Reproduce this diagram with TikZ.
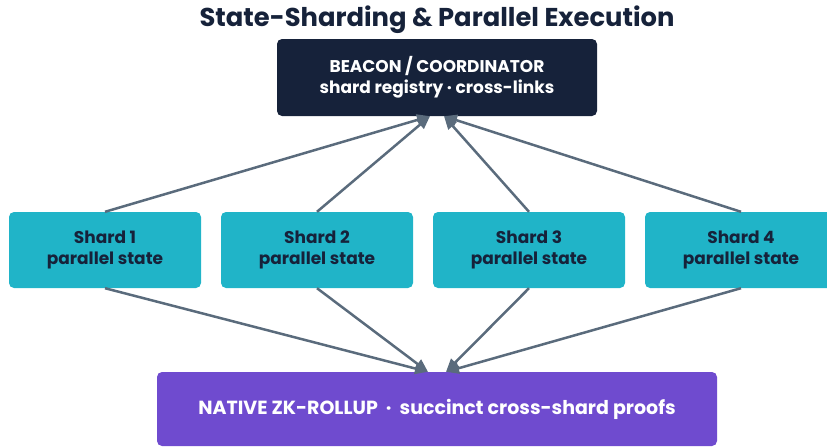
\documentclass[tikz,border=0pt]{standalone}
\usepackage{fontspec}
\setmainfont{Poppins}
\usetikzlibrary{arrows.meta,calc}

\definecolor{navyink}{HTML}{16223A}
\definecolor{shardfill}{HTML}{20B4C8}
\definecolor{rollupfill}{HTML}{6F4BCF}
\definecolor{edgegray}{HTML}{5A6B7C}

\tikzset{
  box/.style={rectangle, rounded corners=5pt, align=center, inner sep=0pt,
              font=\bfseries\fontsize{17}{20.5}\selectfont},
  beaconbox/.style={box, fill=navyink, text=white, minimum width=320pt, minimum height=77pt},
  shardbox/.style={box, fill=shardfill, text=navyink, minimum width=192pt, minimum height=76pt},
  rollupbox/.style={box, fill=rollupfill, text=white, minimum width=560pt, minimum height=74pt,
                    font=\bfseries\fontsize{19}{22}\selectfont},
  link/.style={draw=edgegray, line width=2.5pt,
               -{Triangle[length=13pt,width=11pt]}},
}

\begin{document}
\begin{tikzpicture}[x=1pt,y=-1pt]
  \useasboundingbox (0,0) rectangle (827,447);
  \clip (0,0) rectangle (827,447);

  \node[text=navyink, font=\bfseries\fontsize{25.8}{30}\selectfont] (title) at (437,20)
    {State-Sharding \& Parallel Execution};

  \node[beaconbox] (beacon) at (437,77.5)
    {BEACON / COORDINATOR\\shard registry · cross-links};

  \node[shardbox] (s1) at (105,250) {Shard 1\\parallel state};
  \node[shardbox] (s2) at (317,250) {Shard 2\\parallel state};
  \node[shardbox] (s3) at (529,250) {Shard 3\\parallel state};
  \node[shardbox] (s4) at (741,250) {Shard 4\\parallel state};

  \node[rollupbox] (rollup) at (437,409)
    {NATIVE ZK-ROLLUP~~·~~succinct cross-shard proofs};

  % arrival points on the beacon and the rollup
  \coordinate (bl) at ($(beacon.south)+(-7,0)$);
  \coordinate (br) at ($(beacon.south)+(7,0)$);
  \coordinate (rl) at ($(rollup.north)+(-9,0)$);
  \coordinate (rr) at ($(rollup.north)+(9,0)$);

  % shards report up to the beacon
  \draw[link] (s1.north) -- (bl);
  \draw[link] (s2.north) -- (bl);
  \draw[link] (s3.north) -- (br);
  \draw[link] (s4.north) -- (br);

  % shards feed the rollup below
  \draw[link] (s1.south) -- (rl);
  \draw[link] (s2.south) -- (rl);
  \draw[link] (s3.south) -- (rr);
  \draw[link] (s4.south) -- (rr);
\end{tikzpicture}
\end{document}
